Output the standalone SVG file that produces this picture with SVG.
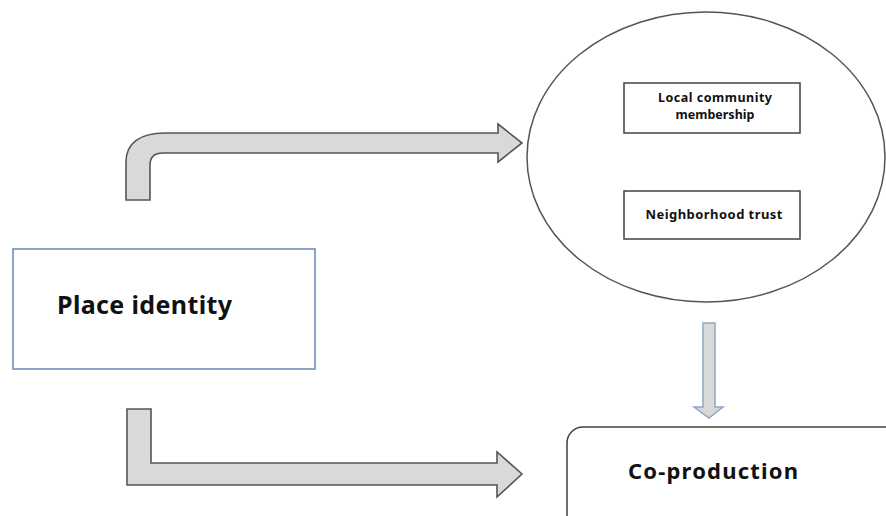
<svg xmlns="http://www.w3.org/2000/svg" width="886" height="516" viewBox="0 0 886 516">
<style>
.arrow{fill:#D9D9D9;stroke:#555;stroke-width:1.6;stroke-linejoin:miter}
.box{fill:#fff;stroke:#404040;stroke-width:1.5}
.t{font-family:"Noto Sans","Open Sans",sans-serif;font-weight:bold;fill:#111;text-anchor:middle}
</style>
<rect width="886" height="516" fill="#fff"/>
<g id="connectors">
<path class="arrow" d="M126,200 L126,162 C126,143 140,133 165,133 L498,133 L498,124 L522,143 L498,162 L498,153 L163,153 C155,153 150,157 150,165 L150,200 Z"/>
<path class="arrow" d="M127,409 L151,409 L151,463 L497,463 L497,452 L522,474 L497,497 L497,485 L127,485 Z"/>
<path d="M703,323 L715,323 L715,407 L723,407 L709,418 L694,407 L703,407 Z" fill="#D9D9D9" stroke="#8EA6C6" stroke-width="1.5"/>
</g>
<g id="place-identity">
<rect x="13" y="249" width="302" height="120" fill="#fff" stroke="#7F98C6" stroke-width="1.8"/>
<text class="t" x="57" y="314" font-size="25" textLength="175" lengthAdjust="spacing" style="text-anchor:start">Place identity</text>
</g>
<g id="mediators">
<ellipse cx="706" cy="157" rx="179" ry="145" fill="#fff" stroke="#555" stroke-width="1.5"/>
</g>
<g id="local-community-membership">
<rect class="box" x="624" y="83" width="176" height="50"/>
<text class="t" x="715" y="102" font-size="12.5" textLength="114" lengthAdjust="spacing">Local community</text>
<text class="t" x="715" y="119" font-size="12.5">membership</text>
</g>
<g id="neighborhood-trust">
<rect class="box" x="624" y="191" width="176" height="48"/>
<text class="t" x="714" y="219" font-size="13" textLength="137" lengthAdjust="spacing">Neighborhood trust</text>
</g>
<g id="co-production">
<rect x="567" y="427" width="340" height="110" rx="16" fill="#fff" stroke="#404040" stroke-width="1.5"/>
<text class="t" x="713" y="479" font-size="22" textLength="170" lengthAdjust="spacing">Co-production</text>
</g>
</svg>
